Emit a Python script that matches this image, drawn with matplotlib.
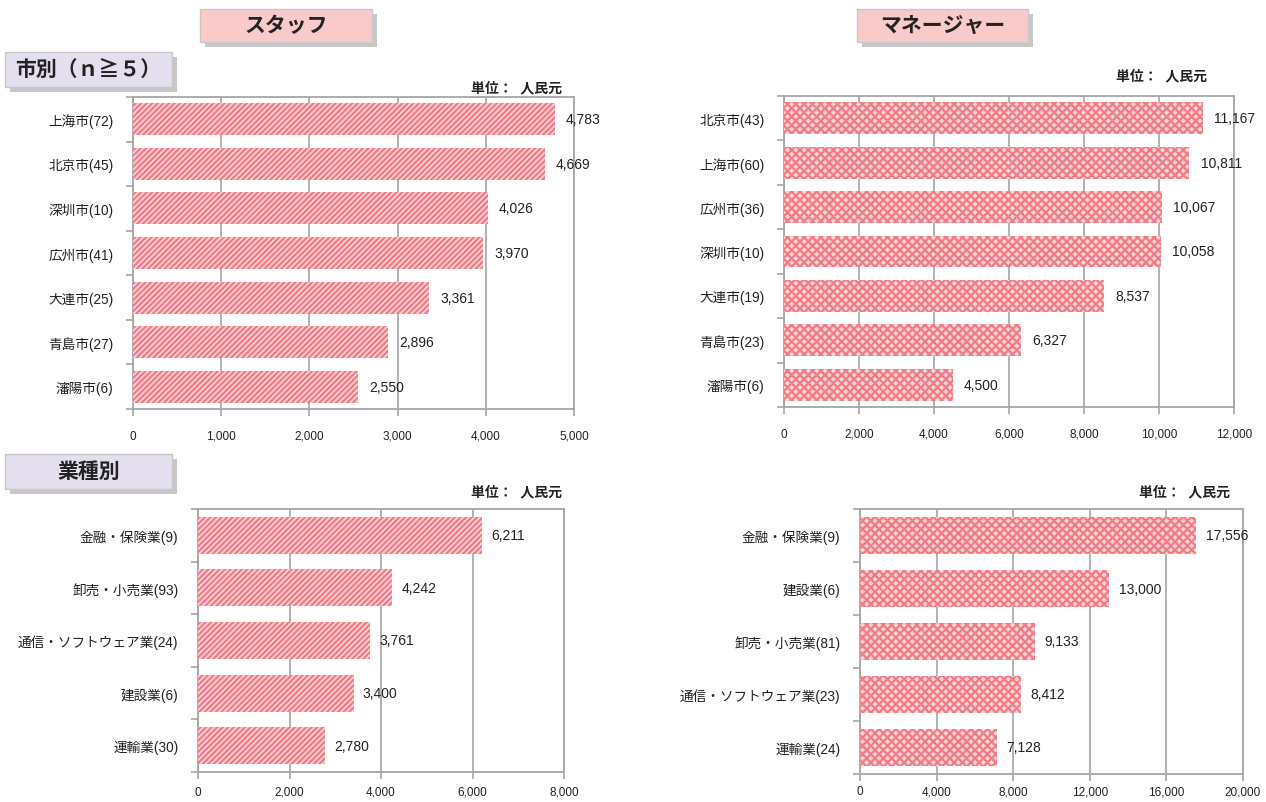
import matplotlib
matplotlib.use("Agg")
import matplotlib.pyplot as plt
from matplotlib.patches import FancyBboxPatch
import numpy as np

plt.rcParams['font.family'] = ['Liberation Sans', 'Noto Sans CJK JP', 'DejaVu Sans']
plt.rcParams['hatch.linewidth'] = 1.6

# ---- data ----
staff_city = ["上海市(72)", "北京市(45)", "深圳市(10)", "広州市(41)", "大連市(25)", "青島市(27)", "瀋陽市(6)"]
staff_city_vals = [4783, 4669, 4026, 3970, 3361, 2896, 2550]
mgr_city = ["北京市(43)", "上海市(60)", "広州市(36)", "深圳市(10)", "大連市(19)", "青島市(23)", "瀋陽市(6)"]
mgr_city_vals = [11167, 10811, 10067, 10058, 8537, 6327, 4500]
staff_ind = ["金融・保険業(9)", "卸売・小売業(93)", "通信・ソフトウェア業(24)", "建設業(6)", "運輸業(30)"]
staff_ind_vals = [6211, 4242, 3761, 3400, 2780]
mgr_ind = ["金融・保険業(9)", "建設業(6)", "卸売・小売業(81)", "通信・ソフトウェア業(23)", "運輸業(24)"]
mgr_ind_vals = [17556, 13000, 9133, 8412, 7128]

W, H = 1266, 803
fig = plt.figure(figsize=(W/100, H/100), dpi=100)

def px_axes(x0, y0, x1, y1):
    return fig.add_axes([x0/W, 1-y1/H, (x1-x0)/W, (y1-y0)/H])

GRID = '#A6A6A6'

def panel(ax, box, cats, vals, xmax, step, hatch, bar_h, xpad, unit_dx, unit_dy):
    n = len(cats)
    y = np.arange(n)
    ax.barh(y, vals, height=bar_h, color='#FCD3D6', edgecolor='#F27C86',
            hatch=hatch, linewidth=0, zorder=3)
    ax.set_ylim(n-0.5, -0.5)
    ax.set_xlim(0, xmax)
    xt = np.arange(0, xmax+1, step)
    ax.set_xticks(xt)
    ax.set_xticklabels([f"{int(v):,}" for v in xt], fontsize=8.5, color='#222222')
    ax.set_yticks(y)
    ax.set_yticklabels(cats, fontsize=9.8, color='#222222')
    ax.set_yticks(np.arange(n+1)-0.5, minor=True)
    ax.tick_params(axis='y', which='major', length=0, pad=14)
    ax.tick_params(axis='y', which='minor', length=5, color=GRID, width=1.2)
    ax.tick_params(axis='x', length=5, color=GRID, width=1.2, pad=xpad)
    ax.grid(axis='x', color=GRID, linewidth=1.2, zorder=0)
    for s in ['left', 'bottom', 'top', 'right']:
        ax.spines[s].set_color(GRID)
        ax.spines[s].set_linewidth(1.3)
    for yi, v in zip(y, vals):
        ax.text(v + xmax*0.025, yi, f"{v:,}", va='center', ha='left',
                fontsize=10, color='#222222', zorder=4)
    x0, y0, x1, y1 = box
    fig.text((x1 - unit_dx)/W, 1-(y0 - unit_dy)/H, "単位：  人民元", ha='right',
             va='center', fontsize=10, fontweight='bold', color='#222222')

b1 = (133, 98, 574, 410)
ax1 = px_axes(*b1)
panel(ax1, b1, staff_city, staff_city_vals, 5000, 1000, '//////', 0.72, 10, 12, 10)
b2 = (784, 97, 1234, 408)
ax2 = px_axes(*b2)
panel(ax2, b2, mgr_city, mgr_city_vals, 12000, 2000, 'xxxx', 0.72, 10, 27, 21)
b3 = (198, 510, 564, 773)
ax3 = px_axes(*b3)
panel(ax3, b3, staff_ind, staff_ind_vals, 8000, 2000, '//////', 0.7, 5, 2, 18)
b4 = (860, 510, 1243, 775)
ax4 = px_axes(*b4)
panel(ax4, b4, mgr_ind, mgr_ind_vals, 20000, 4000, 'xxxx', 0.7, 3, 13, 18)

def title_box(x0, y0, x1, y1, text, face, fs):
    sh = FancyBboxPatch((0, 0), 1, 1, boxstyle="square,pad=0",
                        transform=None, facecolor='#9A9A9A', edgecolor='none', alpha=0.55)
    bx = FancyBboxPatch((0, 0), 1, 1, boxstyle="square,pad=0",
                        transform=None, facecolor=face, edgecolor='#C8C8C8', linewidth=1)
    sh.set_bounds(x0+5, H-y1-5, x1-x0, y1-y0)
    bx.set_bounds(x0, H-y1, x1-x0, y1-y0)
    fig.patches.append(sh)
    fig.patches.append(bx)
    fig.text((x0+x1)/2/W, 1-(y0+y1)/2/H, text, ha='center', va='center',
             fontsize=fs, fontweight='bold', color='#222222')

title_box(200, 10, 372, 43, "スタッフ", '#F8CACA', 15)
title_box(857, 10, 1028, 43, "マネージャー", '#F8CACA', 15)
title_box(5, 53, 172, 88, "市別（ｎ≧５）", '#E4DEEE', 15)
title_box(5, 455, 172, 490, "業種別", '#E4DEEE', 15)

fig.savefig("out.png", dpi=100)
